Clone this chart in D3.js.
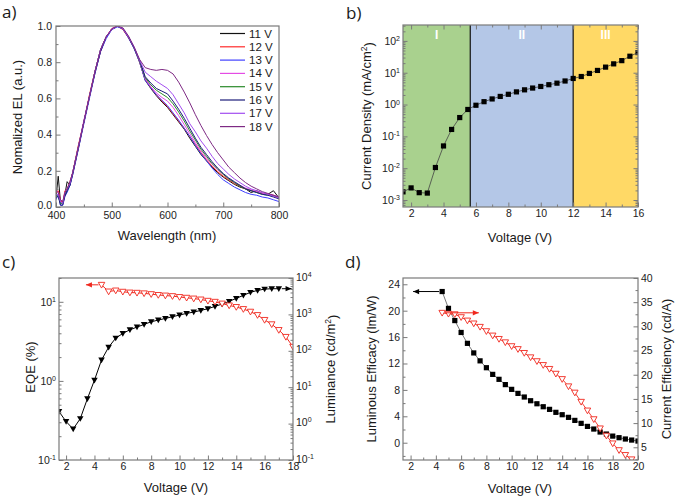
<!DOCTYPE html>
<html><head><meta charset="utf-8">
<script src="https://cdn.jsdelivr.net/npm/d3@7"></script>
<style>body{margin:0;background:#fff}svg text{font-family:"Liberation Sans",Arial,sans-serif;fill:#1a1a1a}</style>
</head><body><svg id="c" width="675" height="500"></svg>
<script>
// ---------- Panel a: EL spectra ----------
const wavelength = [400,404,408,412,416,420,425,430,440,450,460,470,480,490,500,510,520,530,540,550,560,570,580,590,600,610,620,630,640,650,660,670,680,690,700,710,720,730,740,750,760,770,780,790,800];
const el11V = [0.05,0.17,0.03,0.02,0.07,0.14,0.12,0.19,0.33,0.47,0.61,0.75,0.87,0.94,0.98,1.0,0.985,0.935,0.88,0.80,0.70,0.655,0.615,0.58,0.55,0.51,0.47,0.43,0.38,0.335,0.29,0.255,0.22,0.19,0.165,0.145,0.125,0.11,0.10,0.08,0.09,0.075,0.07,0.09,0.05];
const el12V = [0.08,0.09,0.04,0.02,0.09,0.10,0.14,0.19,0.34,0.47,0.62,0.75,0.86,0.94,0.985,1.0,0.98,0.935,0.88,0.80,0.705,0.66,0.62,0.585,0.555,0.515,0.475,0.435,0.39,0.345,0.30,0.26,0.225,0.195,0.17,0.15,0.13,0.115,0.10,0.09,0.085,0.075,0.07,0.065,0.05];
const el13V = [0.04,0.07,0.01,0.01,0.06,0.08,0.12,0.18,0.32,0.46,0.60,0.74,0.86,0.93,0.98,0.995,0.985,0.935,0.875,0.80,0.70,0.66,0.62,0.59,0.56,0.52,0.48,0.435,0.39,0.34,0.295,0.255,0.215,0.18,0.15,0.13,0.11,0.095,0.08,0.07,0.065,0.055,0.05,0.04,0.03];
const el14V = [0.09,0.08,0.03,0.02,0.08,0.10,0.13,0.19,0.33,0.48,0.61,0.75,0.87,0.94,0.985,1.0,0.985,0.94,0.88,0.805,0.71,0.665,0.63,0.605,0.585,0.55,0.505,0.455,0.405,0.355,0.31,0.27,0.235,0.205,0.18,0.155,0.135,0.12,0.105,0.095,0.085,0.075,0.07,0.065,0.055];
const el15V = [0.06,0.06,0.02,0.02,0.07,0.09,0.13,0.19,0.33,0.47,0.61,0.75,0.87,0.94,0.98,1.0,0.985,0.94,0.88,0.805,0.715,0.675,0.645,0.625,0.605,0.57,0.525,0.475,0.42,0.37,0.32,0.28,0.24,0.21,0.18,0.155,0.135,0.115,0.10,0.09,0.08,0.07,0.065,0.06,0.05];
const el16V = [0.05,0.06,0.01,0.01,0.06,0.09,0.12,0.18,0.32,0.47,0.61,0.74,0.86,0.94,0.98,1.0,0.985,0.94,0.88,0.81,0.72,0.685,0.655,0.64,0.625,0.585,0.54,0.49,0.435,0.38,0.33,0.29,0.25,0.215,0.185,0.16,0.14,0.12,0.10,0.09,0.08,0.07,0.065,0.055,0.045];
const el17V = [0.07,0.07,0.03,0.02,0.08,0.10,0.13,0.19,0.33,0.47,0.61,0.75,0.87,0.94,0.98,1.0,0.985,0.94,0.885,0.81,0.745,0.72,0.695,0.675,0.655,0.62,0.57,0.52,0.46,0.415,0.365,0.325,0.28,0.24,0.21,0.18,0.155,0.135,0.115,0.10,0.09,0.08,0.07,0.06,0.05];
const el18V = [0.09,0.08,0.04,0.03,0.08,0.10,0.14,0.19,0.33,0.47,0.61,0.75,0.87,0.94,0.985,1.0,0.99,0.945,0.885,0.815,0.77,0.76,0.755,0.76,0.755,0.735,0.69,0.635,0.575,0.51,0.45,0.395,0.345,0.30,0.26,0.22,0.19,0.16,0.135,0.115,0.10,0.085,0.075,0.065,0.055];
const spectraLabels = ["11 V","12 V","13 V","14 V","15 V","16 V","17 V","18 V"];
const spectraSeries = [el11V,el12V,el13V,el14V,el15V,el16V,el17V,el18V];
const spectraColors = ["#111111","#ff2a2a","#4040ff","#e44ce4","#2a8a2a","#1c1c7a","#a24cf0","#7e2a84"];

// ---------- Panel b: J-V ----------
const jvVoltage = [1.5,2,2.5,3,3.5,4,4.5,5,5.5,6,6.5,7,7.5,8,8.5,9,9.5,10,10.5,11,11.5,12,12.5,13,13.5,14,14.5,15,15.5,16];
const currentDensity = [0.0018,0.0024,0.0017,0.00165,0.0105,0.05,0.165,0.39,0.7,0.95,1.23,1.5,1.8,2.1,2.5,2.9,3.3,3.7,4.2,4.7,5.5,6.6,7.6,9.5,11.8,15,19,24,33,43];
const regionBounds = [1.5,5.65,12,16];
const regionLabels = ["I","II","III"];
const regionColors = ["#a9d18e","#b4c7e7","#ffd966"];

// ---------- Panel c: EQE & luminance ----------
const eqeVoltage = [4.5,5,5.5,6,6.5,7,7.5,8,8.5,9,9.5,10,10.5,11,11.5,12,12.5,13,13.5,14,14.5,15,15.5,16,16.5,17,17.5,18];
const eqe = [16.4,13.5,13.9,13.4,13.1,13.0,12.8,12.5,12.2,12.0,11.8,11.5,11.25,11.0,10.7,10.3,10.0,9.5,9.0,8.6,8.1,7.5,6.8,5.9,5.2,4.4,3.6,2.7];
const lumVoltage = [1.5,2,2.5,3,3.5,4,4.5,5,5.5,6,6.5,7,7.5,8,8.5,9,9.5,10,10.5,11,11.5,12,12.5,13,13.5,14,14.5,15,15.5,16,16.5,17];
const luminance = [2.14,1.14,0.71,1.37,4.8,15.6,56,126,223,300,378,448,531,628,698,776,863,959,1066,1159,1288,1432,1660,1923,2279,2754,3334,4035,4571,4950,5080,5080];

// ---------- Panel d: efficiencies ----------
const effVoltage = [4.5,5,5.5,6,6.5,7,7.5,8,8.5,9,9.5,10,10.5,11,11.5,12,12.5,13,13.5,14,14.5,15,15.5,16,16.5,17,17.5,18,18.5,19,19.5,20];
const luminousEfficacy = [22.9,20.35,18.5,16.7,15.05,13.6,12.4,11.36,10.35,9.6,8.8,8.08,7.47,6.92,6.36,5.9,5.45,5.05,4.6,4.24,3.84,3.38,2.93,2.47,2.07,1.62,1.31,1.0,0.76,0.56,0.4,0.25];
const ceVoltage = [4.5,5,5.5,6,6.5,7,7.5,8,8.5,9,9.5,10,10.5,11,11.5,12,12.5,13,13.5,14,14.5,15,15.5,16,16.5,17,17.5,18,18.5,19,19.5];
const currentEfficiency = [32.8,32.6,32.5,31.9,31.2,30.6,29.9,29.0,28.1,27.4,26.7,25.9,25.3,24.5,23.6,22.8,22.0,21.2,20.2,19.1,17.6,16.3,14.4,12.6,10.8,8.9,7.4,5.8,4.4,3.4,2.5];

// ================= drawing =================
const svg = d3.select("#c");
const AX = "#7a7a7a";
const RED = "#f0281e";
let clipId = 0;

function clip(x0,y0,x1,y1){
  const id = "clip"+(clipId++);
  svg.append("clipPath").attr("id",id).append("rect").attr("x",x0).attr("y",y0).attr("width",x1-x0).attr("height",y1-y0);
  return svg.append("g").attr("clip-path",`url(#${id})`);
}
function frame(x0,y0,x1,y1){
  svg.append("rect").attr("x",x0).attr("y",y0).attr("width",x1-x0).attr("height",y1-y0)
    .attr("fill","none").attr("stroke",AX).attr("stroke-width",1.2);
}
function axis(orient, scale, pos, major, minor, fmt, log, pad){
  const ax = {bottom:d3.axisBottom, top:d3.axisTop, left:d3.axisLeft, right:d3.axisRight}[orient];
  const tr = (orient==="bottom"||orient==="top") ? `translate(0,${pos})` : `translate(${pos},0)`;
  if (minor && minor.length){
    const m = svg.append("g").attr("transform",tr).call(ax(scale).tickValues(minor).tickSize(-2.5).tickFormat(""));
    m.select(".domain").remove();
    m.selectAll("line").attr("stroke",AX);
  }
  const a = svg.append("g").attr("transform",tr)
    .call(ax(scale).tickValues(major).tickSize(-4.5).tickPadding(pad || 3).tickFormat(fmt || (()=> "")));
  a.select(".domain").remove();
  a.selectAll("line").attr("stroke",AX).attr("stroke-width",1);
  a.attr("font-family",null).attr("font-size",null);
  a.selectAll("text").attr("font-size","10.5px").style("fill","#222");
  if (log){
    a.selectAll(".tick text").each(function(d){
      const t = d3.select(this);
      t.text("10");
      t.append("tspan").attr("dy","-0.55em").attr("font-size","7px").text(String(Math.round(Math.log10(d))));
    });
  }
  return a;
}
function logMinors(lo, hi){
  const out=[];
  for (let e=Math.floor(Math.log10(lo)); e<=Math.ceil(Math.log10(hi)); e++)
    for (let k=2;k<=9;k++){ const v=k*Math.pow(10,e); if (v>=lo && v<=hi) out.push(v); }
  return out;
}
function rotTitle(x, y, parts, size){
  const t = svg.append("text").attr("transform",`translate(${x},${y}) rotate(-90)`).attr("text-anchor","middle").attr("font-size",size+"px");
  parts.forEach(p=>{
    if (typeof p === "string") t.append("tspan").text(p);
    else { t.append("tspan").attr("dy","-0.45em").attr("font-size",(size*0.65)+"px").text(p.sup); t.append("tspan").attr("dy","0.45em").text(p.after); }
  });
  return t;
}
function hTitle(x,y,txt,size){
  svg.append("text").attr("x",x).attr("y",y).attr("text-anchor","middle").attr("font-size",size+"px").text(txt);
}
function panelLetter(x,y,txt){
  svg.append("text").attr("x",x).attr("y",y).attr("font-size","17px").style("font-family","'Open Sans',sans-serif").text(txt);
}
function triDown(x,y,s){
  return `M${x-s/2},${y-s*0.38}L${x+s/2},${y-s*0.38}L${x},${y+s*0.5}Z`;
}
function arrow(x1,y1,x2,y2,color){
  svg.append("line").attr("x1",x1).attr("y1",y1).attr("x2",x2).attr("y2",y2).attr("stroke",color).attr("stroke-width",1);
  const dir = Math.sign(x2-x1);
  svg.append("path").attr("d",`M${x2},${y2}L${x2-dir*6},${y2-2.6}L${x2-dir*6},${y2+2.6}Z`).attr("fill",color);
}

// ---------- Panel a ----------
{
  const x = d3.scaleLinear().domain([400,800]).range([56,279]);
  const y = d3.scaleLinear().domain([0,1]).range([207,26]);
  const g = clip(56,26,279,207);
  const line = d3.line().x((d,i)=>x(wavelength[i])).y(d=>y(d));
  spectraSeries.forEach((s,i)=>{
    g.append("path").attr("d",line(s)).attr("fill","none").attr("stroke",spectraColors[i]).attr("stroke-width",1);
  });
  frame(56,26,279,207);
  axis("bottom", x, 207, d3.range(400,801,100), d3.range(450,800,100), d3.format("d"), false, 5);
  const la = axis("left", y, 56, d3.range(0,1.01,0.2), d3.range(0.1,1,0.2), d3.format(".1f"), false, 4);
  la.selectAll(".tick text").filter(d=>d===0).attr("dy","0.1em");
  spectraLabels.forEach((lab,i)=>{
    const yy = 33.5 + i*13.3;
    svg.append("line").attr("x1",220).attr("x2",245).attr("y1",yy).attr("y2",yy).attr("stroke",spectraColors[i]).attr("stroke-width",1.2);
    svg.append("text").attr("x",249).attr("y",yy+4).attr("font-size","11.5px").text(lab);
  });
  hTitle(167,240,"Wavelength (nm)",13);
  rotTitle(22,117,["Nomalized EL (a.u.)"],13);
  panelLetter(2,18,"a)");
}

// ---------- Panel b ----------
{
  const x = d3.scaleLinear().domain([1.5,16]).range([403,638]);
  const y = d3.scaleLog().domain([Math.pow(10,-3.22),Math.pow(10,2.5)]).range([207,25]);
  for (let i=0;i<3;i++){
    svg.append("rect").attr("x",x(regionBounds[i])).attr("y",25).attr("width",x(regionBounds[i+1])-x(regionBounds[i])).attr("height",182).attr("fill",regionColors[i]);
    svg.append("text").attr("x",(x(regionBounds[i])+x(regionBounds[i+1]))/2).attr("y",39).attr("text-anchor","middle")
      .attr("font-size","12px").attr("font-weight","bold").style("fill","#ffffff").text(regionLabels[i]);
  }
  [1,2].forEach(i=> svg.append("line").attr("x1",x(regionBounds[i])).attr("x2",x(regionBounds[i])).attr("y1",25).attr("y2",207).attr("stroke","#111").attr("stroke-width",1.2));
  const g = clip(403,25,638,207);
  g.append("path").attr("d",d3.line().x((d,i)=>x(jvVoltage[i])).y(d=>y(d))(currentDensity)).attr("fill","none").attr("stroke","#444").attr("stroke-width",0.8);
  g.selectAll(null).data(currentDensity).enter().append("rect")
    .attr("x",(d,i)=>x(jvVoltage[i])-2.6).attr("y",d=>y(d)-2.6).attr("width",5.2).attr("height",5.2).attr("fill","#000");
  frame(403,25,638,207);
  const yMaj=[1e-3,1e-2,1e-1,1,10,100], yMin=logMinors(Math.pow(10,-3.22),Math.pow(10,2.5));
  axis("bottom", x, 207, d3.range(2,17,2), d3.range(3,16,2), d3.format("d"));
  axis("top", x, 25, d3.range(2,17,2), d3.range(3,16,2), null);
  axis("left", y, 403, yMaj, yMin, d=>"10", true);
  axis("right", y, 638, yMaj, yMin, null);
  hTitle(520,242,"Voltage (V)",13);
  rotTitle(371,116,["Current Density (mA/cm",{sup:"2",after:")"}],13);
  panelLetter(346,19,"b)");
}

// ---------- Panel c ----------
{
  const x = d3.scaleLinear().domain([1.5,18]).range([59,293]);
  const yL = d3.scaleLog().domain([0.1,20]).range([460,278]);
  const yR = d3.scaleLog().domain([0.1,1e4]).range([460,278]);
  const g = clip(59,278,293,460);
  g.append("path").attr("d",d3.line().x((d,i)=>x(lumVoltage[i])).y(d=>yR(d))(luminance)).attr("fill","none").attr("stroke","#000").attr("stroke-width",1);
  g.append("path").attr("d",d3.line().x((d,i)=>x(eqeVoltage[i])).y(d=>yL(d))(eqe)).attr("fill","none").attr("stroke",RED).attr("stroke-width",1);
  g.selectAll(null).data(luminance).enter().append("path").attr("d",(d,i)=>triDown(x(lumVoltage[i]),yR(d),6.5)).attr("fill","#000");
  g.selectAll(null).data(eqe).enter().append("path").attr("d",(d,i)=>triDown(x(eqeVoltage[i]),yL(d),6.5)).attr("fill","#fff").attr("stroke",RED).attr("stroke-width",0.9);
  arrow(x(eqeVoltage[0])-3, yL(eqe[0]), x(3.4), yL(eqe[0]), RED);
  arrow(x(lumVoltage[lumVoltage.length-1])+3, yR(luminance[luminance.length-1]), x(17.9), yR(luminance[luminance.length-1]), "#000");
  frame(59,278,293,460);
  axis("bottom", x, 460, d3.range(2,19,2), d3.range(3,18,2), d3.format("d"));
  axis("left", yL, 59, [0.1,1,10], logMinors(0.1,20), d=>"10", true);
  const r = axis("right", yR, 293, [0.1,1,10,100,1000,10000], logMinors(0.1,1e4), d=>"10", true);
  r.selectAll(".tick text").attr("dy","0.2em");
  hTitle(176,492,"Voltage (V)",13);
  rotTitle(35,367,["EQE (%)"],13);
  rotTitle(335,369,["Luminance (cd/m",{sup:"2",after:")"}],13);
  panelLetter(2,268,"c)");
}

// ---------- Panel d ----------
{
  const x = d3.scaleLinear().domain([1.4,20]).range([403,638]);
  const yL = d3.scaleLinear().domain([-2.62,24.95]).range([460,278]);
  const yR = d3.scaleLinear().domain([2.37,40]).range([460,278]);
  const g = clip(403,278,638,460);
  g.append("path").attr("d",d3.line().x((d,i)=>x(effVoltage[i])).y(d=>yL(d))(luminousEfficacy)).attr("fill","none").attr("stroke","#555").attr("stroke-width",0.8);
  g.append("path").attr("d",d3.line().x((d,i)=>x(ceVoltage[i])).y(d=>yR(d))(currentEfficiency)).attr("fill","none").attr("stroke",RED).attr("stroke-width",0.9);
  g.selectAll(null).data(luminousEfficacy).enter().append("rect")
    .attr("x",(d,i)=>x(effVoltage[i])-2.6).attr("y",d=>yL(d)-2.6).attr("width",5.2).attr("height",5.2).attr("fill","#000");
  g.selectAll(null).data(currentEfficiency).enter().append("path").attr("d",(d,i)=>triDown(x(ceVoltage[i]),yR(d),6.5)).attr("fill","#fff").attr("stroke",RED).attr("stroke-width",0.9);
  arrow(x(effVoltage[0])-3, yL(luminousEfficacy[0]), x(2.2), yL(luminousEfficacy[0]), "#000");
  arrow(x(ceVoltage[0])+3, yR(currentEfficiency[0]), x(7.4), yR(currentEfficiency[0]), RED);
  frame(403,278,638,460);
  axis("bottom", x, 460, d3.range(2,21,2), d3.range(3,20,2), d3.format("d"));
  axis("left", yL, 403, d3.range(0,25,4), [-2,2,6,10,14,18,22], d3.format("d"));
  axis("right", yR, 638, d3.range(5,41,5), [2.5,7.5,12.5,17.5,22.5,27.5,32.5,37.5], d3.format("d"));
  hTitle(520,493,"Voltage (V)",13);
  rotTitle(376,369,["Luminous Efficacy (lm/W)"],13);
  rotTitle(671,369,["Current Efficiency (cd/A)"],13);
  panelLetter(345,268,"d)");
}
</script></body></html>
